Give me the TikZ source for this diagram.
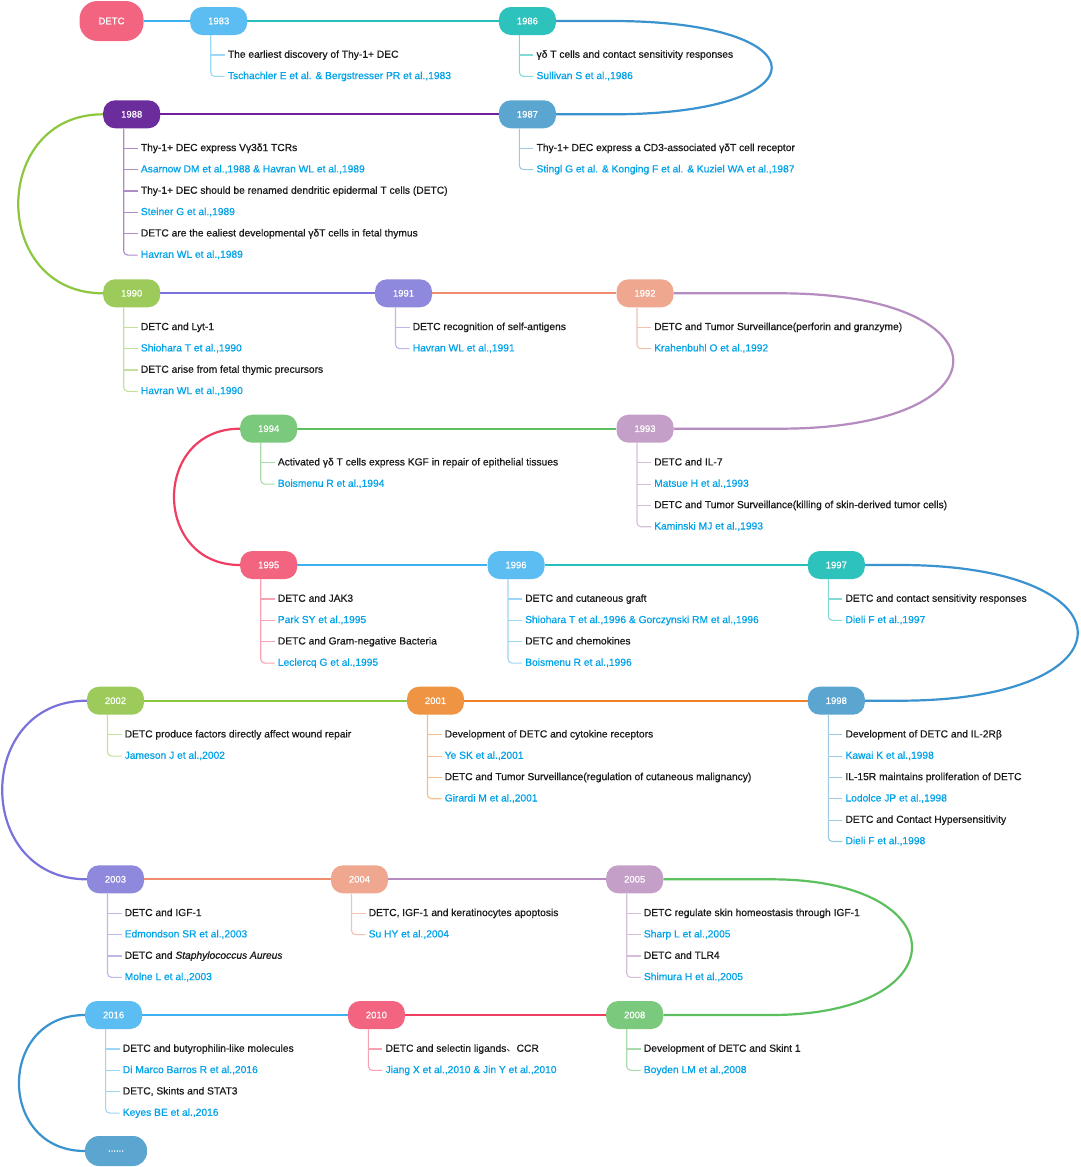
\documentclass[tikz,border=0pt]{standalone}
\usepackage{fontspec}
\setmainfont{Liberation Sans}[FakeBold=0.6,AutoFakeBold=0.6]
\newfontfamily\semib{Liberation Sans}[FakeBold=0.6]
\newfontfamily\cjk{Noto Sans CJK SC}
\usetikzlibrary{backgrounds}
% fills
\definecolor{cRed}{HTML}{F2647F}
\definecolor{cLBlue}{HTML}{5BBDF2}
\definecolor{cTeal}{HTML}{2EC2BD}
\definecolor{cSteel}{HTML}{5BA5D1}
\definecolor{cPurple}{HTML}{6B2C9C}
\definecolor{cYGreen}{HTML}{9CCB5B}
\definecolor{cLav}{HTML}{8E89DC}
\definecolor{cSalmon}{HTML}{EFA88F}
\definecolor{cMauve}{HTML}{C4A0C9}
\definecolor{cGreen}{HTML}{7AC97C}
\definecolor{cOrange}{HTML}{EE9442}
% lines
\definecolor{lRed}{HTML}{F03E62}
\definecolor{lLBlue}{HTML}{3DB0F0}
\definecolor{lTeal}{HTML}{25BFBA}
\definecolor{lSteel}{HTML}{3A92CF}
\definecolor{lPurple}{HTML}{6E1E9E}
\definecolor{lYGreen}{HTML}{8DC63F}
\definecolor{lLav}{HTML}{7A72DB}
\definecolor{lSalmon}{HTML}{F08D6E}
\definecolor{lMauve}{HTML}{B58BC0}
\definecolor{lGreen}{HTML}{5CC05E}
\definecolor{lOrange}{HTML}{F08028}
% text
\definecolor{itemtxt}{HTML}{1A1A1A}
\definecolor{reftxt}{HTML}{00A2E8}
\tikzset{
  yr/.style={rounded corners=12pt, fill=#1, text=white, minimum width=57pt,
    minimum height=28pt, inner sep=0pt, font=\semib\fontsize{9.5}{10}\selectfont},
  conn/.style={line width=2.2pt, draw=#1},
  branch/.style={line width=1.1pt, draw=#1},
  item/.style={anchor=west, inner sep=0pt, text height=7.5pt, text depth=2pt,
    font=\semib\fontsize{10.25}{12}\selectfont},
}
\newcommand{\yitems}[3]{%
  \coordinate (#1-b) at ([xshift=-8pt]#1.south);
  \foreach \txt [count=\i] in {#3} {
    \ifodd\i \def\tcol{itemtxt}\else\def\tcol{reftxt}\fi
    \node[item, text=\tcol] (#1-t\i) at ([shift={(9,{34+21.35*(\i-1)})}]#1.center) {\txt};
    \xdef\lastitem{\i}
  }
  \draw[branch=#2, rounded corners=4pt] (#1-b) |- ([xshift=-3pt]#1-t\lastitem.west);
  \pgfmathtruncatemacro{\nm}{\lastitem-1}
  \foreach \j in {1,...,\nm} {
    \draw[branch=#2] (#1-t\j.west -| #1-b) -- ([xshift=-3pt]#1-t\j.west);
  }
}
\begin{document}
\begin{tikzpicture}[x=1pt, y=-1pt]
\useasboundingbox (0,0) rectangle (1081,1167);
% year nodes
\node[yr=cRed, minimum width=64pt, minimum height=40pt, rounded corners=18pt] (detc) at (111.5,21) {DETC};
\node[yr=cLBlue]  (y1983) at (218.7,21) {1983};
\node[yr=cTeal]   (y1986) at (527.4,21) {1986};
\node[yr=cSteel]  (y1987) at (527.4,114.3) {1987};
\node[yr=cPurple] (y1988) at (131.7,114.3) {1988};
\node[yr=cYGreen] (y1990) at (131.7,293.3) {1990};
\node[yr=cLav]    (y1991) at (403.5,293.3) {1991};
\node[yr=cSalmon] (y1992) at (645,293.3) {1992};
\node[yr=cMauve]  (y1993) at (645,428.7) {1993};
\node[yr=cGreen]  (y1994) at (268.7,428.7) {1994};
\node[yr=cRed]    (y1995) at (268.7,565) {1995};
\node[yr=cLBlue]  (y1996) at (516,565) {1996};
\node[yr=cTeal]   (y1997) at (836.3,565) {1997};
\node[yr=cSteel]  (y1998) at (836.3,700.7) {1998};
\node[yr=cOrange] (y2001) at (435.5,700.7) {2001};
\node[yr=cYGreen] (y2002) at (115.5,700.7) {2002};
\node[yr=cLav]    (y2003) at (115.5,879.3) {2003};
\node[yr=cSalmon] (y2004) at (359.5,879.3) {2004};
\node[yr=cMauve]  (y2005) at (634.7,879.3) {2005};
\node[yr=cGreen]  (y2008) at (634.7,1015) {2008};
\node[yr=cRed]    (y2010) at (376.4,1015) {2010};
\node[yr=cLBlue]  (y2016) at (113.6,1015) {2016};
\node[yr=cSteel, minimum width=62pt, minimum height=30pt, rounded corners=14pt] (ydots) at (116,1151) {......};

% items
\yitems{y1983}{cLBlue!60!white}{{The earliest discovery of Thy-1+ DEC},{Tschachler E et al. \& Bergstresser PR et al.,1983}}
\yitems{y1986}{cTeal!60!white}{{γδ T cells and contact sensitivity responses},{Sullivan S et al.,1986}}
\yitems{y1987}{cSteel!60!white}{{Thy-1+ DEC express a CD3-associated γδT cell receptor},{Stingl G et al. \& Konging F et al. \& Kuziel WA et al.,1987}}
\yitems{y1988}{cPurple!55!white}{{Thy-1+ DEC express Vγ3δ1 TCRs},{Asarnow DM et al.,1988 \& Havran WL et al.,1989},{Thy-1+ DEC should be renamed dendritic epidermal T cells (DETC)},{Steiner G et al.,1989},{DETC are the ealiest developmental γδT cells in fetal thymus},{Havran WL et al.,1989}}
\yitems{y1990}{cYGreen!60!white}{{DETC and Lyt-1},{Shiohara T et al.,1990},{DETC arise from fetal thymic precursors},{Havran WL et al.,1990}}
\yitems{y1991}{cLav!60!white}{{DETC recognition of self-antigens},{Havran WL et al.,1991}}
\yitems{y1992}{cSalmon!70!white}{{DETC and Tumor Surveillance(perforin and granzyme)},{Krahenbuhl O et al.,1992}}
\yitems{y1993}{cMauve!70!white}{{DETC and IL-7},{Matsue H et al.,1993},{DETC and Tumor Surveillance(killing of skin-derived tumor cells)},{Kaminski MJ et al.,1993}}
\yitems{y1994}{cGreen!65!white}{{Activated γδ T cells express KGF in repair of epithelial tissues},{Boismenu R et al.,1994}}
\yitems{y1995}{cRed!60!white}{{DETC and JAK3},{Park SY et al.,1995},{DETC and Gram-negative Bacteria},{Leclercq G et al.,1995}}
\yitems{y1996}{cLBlue!60!white}{{DETC and cutaneous graft},{Shiohara T et al.,1996 \& Gorczynski RM et al.,1996},{DETC and chemokines},{Boismenu R et al.,1996}}
\yitems{y1997}{cTeal!60!white}{{DETC and contact sensitivity responses},{Dieli F et al.,1997}}
\yitems{y1998}{cSteel!60!white}{{Development of DETC and IL-2Rβ},{Kawai K et al.,1998},{IL-15R maintains proliferation of DETC},{Lodolce JP et al.,1998},{DETC and Contact Hypersensitivity},{Dieli F et al.,1998}}
\yitems{y2001}{cOrange!60!white}{{Development of DETC and cytokine receptors},{Ye SK et al.,2001},{DETC and Tumor Surveillance(regulation of cutaneous malignancy)},{Girardi M et al.,2001}}
\yitems{y2002}{cYGreen!60!white}{{DETC produce factors directly affect wound repair},{Jameson J et al.,2002}}
\yitems{y2003}{cLav!60!white}{{DETC and IGF-1},{Edmondson SR et al.,2003},{DETC and \textit{Staphylococcus Aureus}},{Molne L et al.,2003}}
\yitems{y2004}{cSalmon!70!white}{{DETC, IGF-1 and keratinocytes apoptosis},{Su HY et al.,2004}}
\yitems{y2005}{cMauve!70!white}{{DETC regulate skin homeostasis through IGF-1},{Sharp L et al.,2005},{DETC and TLR4},{Shimura H et al.,2005}}
\yitems{y2008}{cGreen!65!white}{{Development of DETC and Skint 1},{Boyden LM et al.,2008}}
\yitems{y2010}{cRed!60!white}{{DETC and selectin ligands{\cjk 、}CCR},{Jiang X et al.,2010 \& Jin Y et al.,2010}}
\yitems{y2016}{cLBlue!60!white}{{DETC and butyrophilin-like molecules},{Di Marco Barros R et al.,2016},{DETC, Skints and STAT3},{Keyes BE et al.,2016}}

\begin{pgfonlayer}{background}
\fill[white] (0,0) rectangle (1081,1167);
\draw[conn=lLBlue] (detc) -- (y1983);
\draw[conn=lTeal] (y1983) -- (y1986);
\draw[conn=lSteel] (y1986) -- (612,21) .. controls (825,21) and (825,114.3) .. (612,114.3) -- (y1987);
\draw[conn=lPurple] (y1987) -- (y1988);
\draw[conn=lYGreen] (y1988.west) .. controls (-10,114.3) and (-10,293.3) .. (y1990.west);
\draw[conn=lLav] (y1990) -- (y1991);
\draw[conn=lSalmon] (y1991) -- (y1992);
\draw[conn=lMauve] (y1992) -- (780,293.3) .. controls (1011,293.3) and (1011,428.7) .. (780,428.7) -- (y1993);
\draw[conn=lGreen] (y1993) -- (y1994);
\draw[conn=lRed] (y1994.west) .. controls (152,428.7) and (152,565) .. (y1995.west);
\draw[conn=lLBlue] (y1995) -- (y1996);
\draw[conn=lTeal] (y1996) -- (y1997);
\draw[conn=lSteel] (y1997) -- (900,565) .. controls (1137,565) and (1137,700.7) .. (900,700.7) -- (y1998);
\draw[conn=lOrange] (y1998) -- (y2001);
\draw[conn=lYGreen] (y2001) -- (y2002);
\draw[conn=lLav] (y2002.west) .. controls (-26,700.7) and (-26,879.3) .. (y2003.west);
\draw[conn=lSalmon] (y2003) -- (y2004);
\draw[conn=lMauve] (y2004) -- (y2005);
\draw[conn=lGreen] (y2005) -- (771,879.3) .. controls (959,879.3) and (959,1015) .. (771,1015) -- (y2008);
\draw[conn=lRed] (y2008) -- (y2010);
\draw[conn=lLBlue] (y2010) -- (y2016);
\draw[conn=lSteel] (y2016.west) .. controls (-3,1015) and (-3,1151) .. (ydots.west);
\end{pgfonlayer}
\end{tikzpicture}
\end{document}
